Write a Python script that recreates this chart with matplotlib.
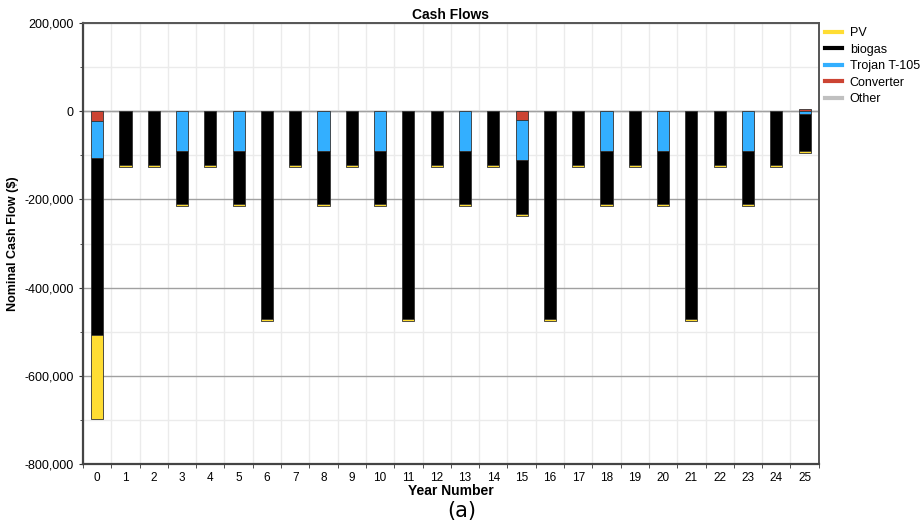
import matplotlib
matplotlib.use("Agg")
import matplotlib.pyplot as plt
from matplotlib.lines import Line2D
from matplotlib.ticker import FuncFormatter, MultipleLocator
import numpy as np

plt.rcParams['font.family'] = ['Liberation Sans', 'DejaVu Sans']

# ==============================
# dados (fluxos de caixa nominais, $)
# ==============================
anos = list(range(26))

pv = [-192000] + [-4500] * 24 + [-4500]
biogas = [-401000,
          -122000, -122000, -122000, -122000, -122000, -472000,
          -122000, -122000, -122000, -122000, -472000,
          -122000, -122000, -122000, -122000, -472000,
          -122000, -122000, -122000, -122000, -472000,
          -122000, -122000, -122000, -83000]
trojan = [-85000,
          0, 0, -89000, 0, -89000, 0,
          0, -89000, 0, -89000, 0,
          0, -89000, 0, -90000, 0,
          0, -89000, 0, -89000, 0,
          0, -89000, 0, -7000]
conversor = [-21000] + [0] * 14 + [-20000] + [0] * 9 + [6000]
outros = [0] * 26

series = ["PV", "biogas", "Trojan T-105", "Converter", "Other"]
cores = ["#FFDD33", "#000000", "#33AFFF", "#CC4433", "#C0C0C0"]

# ordem de empilhamento a partir do zero
pilha = [(conversor, cores[3]), (trojan, cores[2]), (biogas, cores[1]),
         (pv, cores[0]), (outros, cores[4])]

fig = plt.figure(figsize=(9.22, 5.26), dpi=100)
ax = fig.add_axes([0.090, 0.118, 0.798, 0.838])

x = np.array(anos)
base_pos = np.zeros(len(anos))
base_neg = np.zeros(len(anos))
for valores, cor in pilha:
    v = np.array(valores, dtype=float)
    pos = np.where(v > 0, v, 0)
    neg = np.where(v < 0, v, 0)
    mp = pos > 0
    mn = neg < 0
    if mp.any():
        ax.bar(x[mp], pos[mp], bottom=base_pos[mp], width=0.43, color=cor,
               edgecolor="#333333", linewidth=0.6, zorder=3)
    if mn.any():
        ax.bar(x[mn], neg[mn], bottom=base_neg[mn], width=0.43, color=cor,
               edgecolor="#333333", linewidth=0.6, zorder=3)
    base_pos += pos
    base_neg += neg

ax.set_xlim(-0.5, 25.5)
ax.set_ylim(-800000, 200000)

ax.set_xticks(x)
ax.set_xticklabels([str(a) for a in anos], fontsize=8.5)
ax.set_xticks(np.arange(-0.5, 26, 1), minor=True)
ax.tick_params(axis="x", which="major", length=0, pad=6)
ax.tick_params(axis="x", which="minor", length=3, color="#333333")

ax.yaxis.set_major_locator(MultipleLocator(200000))
ax.yaxis.set_minor_locator(MultipleLocator(100000))
ax.yaxis.set_major_formatter(FuncFormatter(lambda v, p: f"{v:,.0f}"))
ax.tick_params(axis="y", which="major", length=3, labelsize=9, color="#333333")
ax.tick_params(axis="y", which="minor", length=2, color="#333333")

ax.grid(axis="x", which="minor", color="#EBEBEB", linewidth=1.0, zorder=0)
ax.grid(axis="y", which="minor", color="#EBEBEB", linewidth=1.0, zorder=0)
ax.grid(axis="y", which="major", color="#A0A0A0", linewidth=1.0, zorder=1)
ax.axhline(0, color="#A0A0A0", linewidth=1.0, zorder=1)

for lado in ["left", "bottom"]:
    ax.spines[lado].set_color("#444444")
    ax.spines[lado].set_linewidth(1.6)
for lado in ["top", "right"]:
    ax.spines[lado].set_color("#555555")
    ax.spines[lado].set_linewidth(1.4)

ax.set_title("Cash Flows", fontsize=10, fontweight="bold", pad=3)
ax.set_xlabel("Year Number", fontsize=10, fontweight="bold", labelpad=0)
ax.set_ylabel("Nominal Cash Flow ($)", fontsize=9, fontweight="bold", labelpad=4)

handles = [Line2D([0], [0], color=c, linewidth=3) for c in cores]
fig.legend(handles, series, loc="upper left", bbox_to_anchor=(0.889, 0.958),
           frameon=False, fontsize=9, handlelength=1.4, handletextpad=0.6,
           labelspacing=0.36, borderaxespad=0)

fig.text(0.501, 0.010, "(a)", ha="center", va="bottom", fontsize=15,
         family=["DejaVu Sans"])

fig.savefig("out.png", dpi=100)
